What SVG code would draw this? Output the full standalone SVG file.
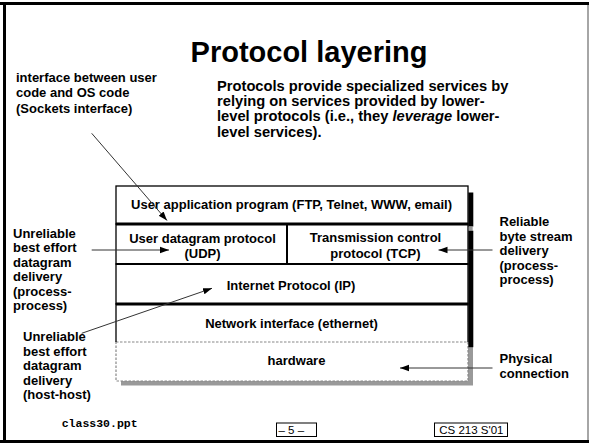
<svg xmlns="http://www.w3.org/2000/svg" width="589" height="444" viewBox="0 0 589 444">
<style>
  text { font-family: "Liberation Sans", Arial, Helvetica, sans-serif; fill: #000; }
  .b { font-weight: bold; font-size: 13px; }
  .c { text-anchor: middle; }
  .para { font-weight: bold; font-size: 14.7px; }
  .title { font-weight: bold; font-size: 29px; text-anchor: middle; }
  .mono { font-family: "Liberation Mono", "Courier New", monospace; font-weight: bold; font-size: 11.5px; }
  .foot { font-size: 11.5px; }
  .box { fill: #fff; stroke: #000; stroke-width: 1.3; }
  .conn { stroke: #333; stroke-width: 1; fill: none; marker-end: url(#ah); }
</style>
<defs>
  <marker id="ah" markerUnits="userSpaceOnUse" markerWidth="10" markerHeight="8" refX="9" refY="4" orient="auto">
    <path d="M0,0.8 L9,4 L0,7.2 Z" fill="#000"/>
  </marker>
</defs>
<rect x="0" y="0" width="589" height="444" fill="#fff"/>
<!-- frame -->
<g id="frame">
  <line x1="0" y1="3.5" x2="589" y2="3.5" stroke="#000" stroke-width="3"/>
  <line x1="4.5" y1="2" x2="4.5" y2="443" stroke="#000" stroke-width="3"/>
  <line x1="0" y1="441.5" x2="589" y2="441.5" stroke="#000" stroke-width="3"/>
  <line x1="588" y1="5" x2="588" y2="440" stroke="#888" stroke-width="1.5"/>
</g>
<text id="title" class="title" x="309" y="62">Protocol layering</text>
<g id="description">
  <text class="para" x="217" y="91">Protocols provide specialized services by</text>
  <text class="para" x="217" y="106">relying on services provided by lower-</text>
  <text class="para" x="217" y="121">level protocols (i.e., they <tspan font-style="italic">leverage</tspan> lower-</text>
  <text class="para" x="217" y="136.5">level services).</text>
</g>
<g id="label-sockets">
  <text class="b" x="16" y="81.5">interface between user</text>
  <text class="b" x="16" y="97">code and OS code</text>
  <text class="b" x="16" y="112.5">(Sockets interface)</text>
</g>
<!-- hardware shadow and box -->
<g id="hardware">
  <rect x="121" y="347" width="352" height="38.5" fill="#999"/>
  <rect x="116" y="342" width="352" height="39" fill="#fff" stroke="#888" stroke-width="1.2" stroke-dasharray="2.5,1.5"/>
  <text class="b c" x="296.5" y="365" font-size="14">hardware</text>
</g>
<g id="stack-shadow">
  <rect x="468.3" y="192.5" width="5" height="34" fill="#000"/>
  <rect x="469" y="226.7" width="3.7" height="4" fill="#999"/>
  <rect x="468.3" y="230.7" width="5" height="116.5" fill="#000"/>
</g>
<g id="app">
  <rect class="box" x="116" y="186" width="352" height="38"/>
  <text class="b c" x="291.5" y="209">User application program (FTP, Telnet, WWW, email)</text>
</g>
<g id="udp">
  <rect class="box" x="116" y="224" width="171" height="40"/>
  <text class="b c" x="202.5" y="242.5">User datagram protocol</text>
  <text class="b c" x="202.5" y="257.5">(UDP)</text>
</g>
<g id="tcp">
  <rect class="box" x="287" y="224" width="181" height="40"/>
  <text class="b c" x="375.5" y="242">Transmission control</text>
  <text class="b c" x="375.5" y="257.5">protocol (TCP)</text>
</g>
<g id="ip">
  <rect class="box" x="116" y="264" width="352" height="40"/>
  <text class="b c" x="291" y="289.5">Internet Protocol (IP)</text>
</g>
<g id="network">
  <path d="M116,342 V304 H468 V342" fill="none" stroke="#000" stroke-width="1.3"/>
  <text class="b c" x="291.5" y="328">Network interface (ethernet)</text>
</g>
<g id="separators">
  <line x1="116" y1="224" x2="468.3" y2="224" stroke="#000" stroke-width="3"/>
  <line x1="116" y1="264" x2="468.3" y2="264" stroke="#000" stroke-width="2"/>
  <line x1="116" y1="304" x2="468.3" y2="304" stroke="#000" stroke-width="3"/>
  <line x1="287" y1="224" x2="287" y2="264" stroke="#000" stroke-width="2"/>
</g>
<g id="label-udp">
  <text class="b" x="13" y="237.5">Unreliable</text>
  <text class="b" x="13" y="252">best effort</text>
  <text class="b" x="13" y="266.5">datagram</text>
  <text class="b" x="13" y="281">delivery</text>
  <text class="b" x="13" y="295.5">(process-</text>
  <text class="b" x="13" y="310">process)</text>
</g>
<g id="label-ip">
  <text class="b" x="23" y="341">Unreliable</text>
  <text class="b" x="23" y="355.5">best effort</text>
  <text class="b" x="23" y="370">datagram</text>
  <text class="b" x="23" y="384.5">delivery</text>
  <text class="b" x="23" y="399">(host-host)</text>
</g>
<g id="label-tcp">
  <text class="b" x="499.5" y="226">Reliable</text>
  <text class="b" x="499.5" y="240.5">byte stream</text>
  <text class="b" x="499.5" y="255">delivery</text>
  <text class="b" x="499.5" y="269.5">(process-</text>
  <text class="b" x="499.5" y="284">process)</text>
</g>
<g id="label-physical">
  <text class="b" x="499.5" y="362.5">Physical</text>
  <text class="b" x="499.5" y="377.5">connection</text>
</g>
<g id="connectors">
  <line class="conn" x1="91.7" y1="133.3" x2="167" y2="220.5"/>
  <line class="conn" x1="91.7" y1="250" x2="169" y2="250"/>
  <line class="conn" x1="81.7" y1="333.3" x2="212" y2="288.3"/>
  <line class="conn" x1="492.5" y1="250" x2="438.5" y2="250"/>
  <line class="conn" x1="492.5" y1="368" x2="400" y2="368"/>
</g>
<g id="footer">
  <text class="mono" x="61.7" y="426.7">class30.ppt</text>
  <rect x="276.5" y="423" width="40" height="13.5" fill="#fff" stroke="#000" stroke-width="1"/>
  <text class="foot" x="278.5" y="433.5" font-size="12">– 5 –</text>
  <rect x="434.5" y="423" width="73" height="13.5" fill="#fff" stroke="#000" stroke-width="1"/>
  <text class="foot" x="439.3" y="433.5">CS 213 S'01</text>
</g>
</svg>
